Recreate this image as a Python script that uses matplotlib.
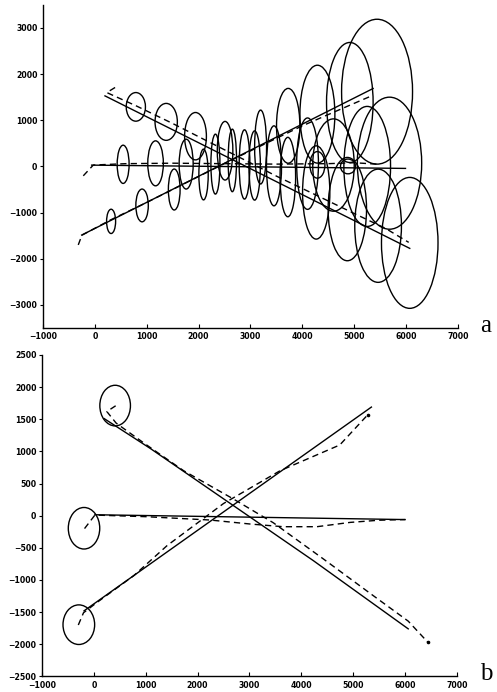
import matplotlib.pyplot as plt
from matplotlib.patches import Ellipse

# ---- panel a: true tracks (solid) and estimates (dashed) ----
a_desc_true_x = [195, 6070]
a_desc_true_y = [1528, -1775]
a_desc_est_x = [390, 230, 800, 1500, 2200, 2800, 3500, 4300, 5000, 5600, 6050]
a_desc_est_y = [1710, 1600, 1310, 930, 530, 190, -210, -640, -1020, -1340, -1645]

a_asc_true_x = [-254, 5364]
a_asc_true_y = [-1487, 1688]
a_asc_est_x = [-320, -250, 300, 1000, 1800, 2600, 3300, 4000, 4800, 5333]
a_asc_est_y = [-1700, -1490, -1160, -780, -330, 120, 500, 880, 1270, 1528]

a_hor_true_x = [-62, 5988]
a_hor_true_y = [28, -43]
a_hor_est_x = [-223, -30, 600, 1500, 2500, 3500, 4500, 5000, 5430]
a_hor_est_y = [-203, 30, 60, 70, 60, 50, 60, 80, 50]

# covariance ellipses: centre x, centre y, full width, full height
ell_desc_x = [790, 1375, 1940, 2510, 3080, 3720, 4267, 4867, 5460, 6070]
ell_desc_y = [1290, 965, 655, 340, 20, -230, -564, -924, -1285, -1656]
ell_desc_w = [370, 430, 420, 300, 220, 300, 526, 740, 900, 1090]
ell_desc_h = [620, 800, 1026, 1270, 1500, 1720, 2020, 2238, 2452, 2836]

ell_asc_x = [313, 910, 1530, 2095, 2650, 3195, 3727, 4290, 4915, 5440]
ell_asc_y = [-1190, -845, -500, -175, 130, 420, 880, 1132, 1385, 1619]
ell_asc_w = [174, 240, 226, 180, 162, 230, 450, 674, 898, 1368]
ell_asc_h = [526, 710, 888, 1100, 1354, 1600, 1620, 2120, 2600, 3138]

ell_hor_x = [545, 1170, 1760, 2324, 2885, 3453, 4100, 4600, 5250, 5680]
ell_hor_y = [46, 67, 50, 50, 43, 13, 60, 30, 0, 70]
ell_hor_w = [230, 300, 270, 174, 206, 290, 420, 800, 900, 1240]
ell_hor_h = [828, 974, 1080, 1298, 1500, 1732, 1980, 2000, 2600, 2860]

ell_small_x = [4290, 4880]
ell_small_y = [34, 0]
ell_small_w = [290, 290]
ell_small_h = [576, 320]

# ---- panel b ----
b_desc_true_x = [200, 1090, 2973, 4231, 6060]
b_desc_true_y = [1510, 1045, 0, -699, -1760]
b_desc_est_x = [420, 250, 430, 1000, 1730, 2690, 3460, 4420, 5380, 6060, 6440]
b_desc_est_y = [1710, 1620, 1440, 1110, 700, 260, -110, -670, -1240, -1640, -1970]

b_asc_true_x = [-190, 5350]
b_asc_true_y = [-1480, 1690]
b_asc_est_x = [-300, -200, 65, 770, 1410, 2500, 3590, 4740, 5280]
b_asc_est_y = [-1700, -1510, -1346, -932, -466, 190, 700, 1100, 1570]

b_hor_true_x = [20, 6000]
b_hor_true_y = [15, -60]
b_hor_est_x = [-180, 20, 1000, 2240, 3010, 3650, 4300, 4940, 5500, 6000]
b_hor_est_y = [-200, 10, -15, -67, -129, -171, -171, -104, -70, -60]

b_circ_x = [410, -190, -290]
b_circ_y = [1713, -195, -1695]
b_circ_w = [590, 606, 610]
b_circ_h = [632, 646, 616]

LW = 1.0
DASH = (0, (4.5, 3))


def style_axes(ax, xlim, ylim, yticks):
    ax.set_xlim(*xlim)
    ax.set_ylim(*ylim)
    ax.set_xticks(range(-1000, 7001, 1000))
    ax.set_yticks(yticks)
    ax.spines['top'].set_visible(False)
    ax.spines['right'].set_visible(False)
    ax.spines['left'].set_linewidth(1.0)
    ax.spines['bottom'].set_linewidth(1.0)
    ax.tick_params(axis='x', direction='in', length=3, width=0.8, pad=3)
    ax.tick_params(axis='y', direction='out', length=2.5, width=0.8, pad=1.5)
    for lab in ax.get_xticklabels() + ax.get_yticklabels():
        lab.set_fontsize(5.6)
        lab.set_fontweight('bold')


def draw_ellipses(ax, xs, ys, ws, hs):
    for x, y, w, h in zip(xs, ys, ws, hs):
        ax.add_patch(Ellipse((x, y), w, h, fill=False, ec='black', lw=LW))


fig = plt.figure(figsize=(4.97, 6.92), dpi=100)

# panel a
ax1 = fig.add_axes([0.0865, 0.526, 0.835, 0.467])
ax1.plot(a_desc_true_x, a_desc_true_y, color='black', lw=LW)
ax1.plot(a_asc_true_x, a_asc_true_y, color='black', lw=LW)
ax1.plot(a_hor_true_x, a_hor_true_y, color='black', lw=LW)
ax1.plot(a_desc_est_x, a_desc_est_y, color='black', lw=LW, ls=DASH)
ax1.plot(a_asc_est_x, a_asc_est_y, color='black', lw=LW, ls=DASH)
ax1.plot(a_hor_est_x, a_hor_est_y, color='black', lw=LW, ls=DASH)
draw_ellipses(ax1, ell_desc_x, ell_desc_y, ell_desc_w, ell_desc_h)
draw_ellipses(ax1, ell_asc_x, ell_asc_y, ell_asc_w, ell_asc_h)
draw_ellipses(ax1, ell_hor_x, ell_hor_y, ell_hor_w, ell_hor_h)
draw_ellipses(ax1, ell_small_x, ell_small_y, ell_small_w, ell_small_h)
style_axes(ax1, (-1000, 7000), (-3500, 3500), range(-3000, 3001, 1000))

# panel b
ax2 = fig.add_axes([0.0845, 0.0225, 0.835, 0.4645])
ax2.plot(b_desc_true_x, b_desc_true_y, color='black', lw=LW)
ax2.plot(b_asc_true_x, b_asc_true_y, color='black', lw=LW)
ax2.plot(b_hor_true_x, b_hor_true_y, color='black', lw=LW)
for xs, ys in [(b_desc_est_x, b_desc_est_y), (b_asc_est_x, b_asc_est_y),
               (b_hor_est_x, b_hor_est_y)]:
    ax2.plot(xs, ys, color='black', lw=LW, ls=DASH)
ax2.plot([b_desc_est_x[-1], b_asc_est_x[-1]], [b_desc_est_y[-1], b_asc_est_y[-1]],
         ls='none', marker='o', ms=1.6, color='black')
draw_ellipses(ax2, b_circ_x, b_circ_y, b_circ_w, b_circ_h)
style_axes(ax2, (-1000, 7000), (-2500, 2500), range(-2500, 2501, 500))

fig.text(0.978, 0.52, 'a', fontsize=18, family='Liberation Serif', ha='center', va='baseline')
fig.text(0.978, 0.018, 'b', fontsize=18, family='Liberation Serif', ha='center', va='baseline')

fig.savefig('out.png', dpi=100)
